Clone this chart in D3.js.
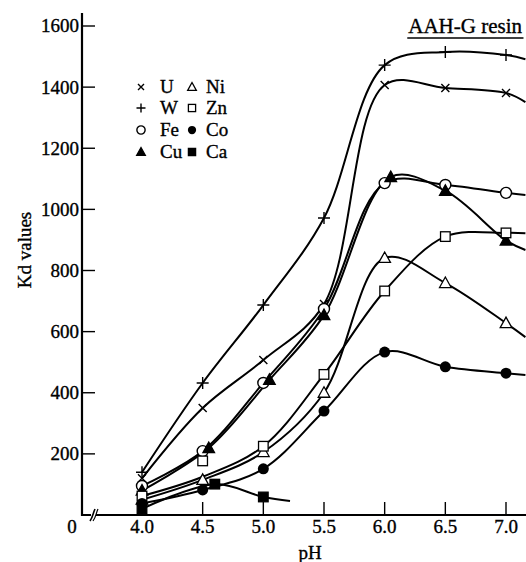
<!DOCTYPE html>
<html>
<head>
<meta charset="utf-8">
<script src="https://cdn.jsdelivr.net/npm/d3@7"></script>
<style>
  html, body { margin: 0; padding: 0; background: #fff; }
  svg { display: block; }
  svg text { font-family: "Liberation Serif", "DejaVu Serif", serif; fill: #000; stroke: #000; stroke-width: 0.35px; }
</style>
</head>
<body>
<svg id="chart" width="526" height="562"></svg>
<script>
// Distribution coefficients (Kd) of metal ions on AAH-G resin versus pH
const pH = [4.0, 4.5, 5.0, 5.5, 6.0, 6.5, 7.0];
const kdU  = [120, 350, 507, 690, 1407, 1397, 1381];
const kdW  = [140, 432, 687, 972, 1472, 1515, 1505];
const kdFe = [95, 209, 432, 674, 1086, 1080, 1054];
const pHCu = [4.0, 4.55, 5.05, 5.5, 6.05, 6.5, 7.0];
const kdCu = [80, 219, 442, 654, 1106, 1061, 898];
const kdNi = [50, 115, 206, 400, 841, 759, 628];
const kdZn = [62, 177, 225, 460, 733, 911, 923];
const kdCo = [38, 82, 151, 340, 533, 485, 464];
const pHCa = [4.0, 4.6, 5.0];
const kdCa = [20, 101, 59];

// Where each fitted curve runs out of the frame
const pHEdge = 7.16;
const pHEdgeCa = 5.22;
const kdEdgeU = 1351, kdEdgeW = 1491, kdEdgeFe = 1047, kdEdgeCu = 867;
const kdEdgeNi = 582, kdEdgeZn = 922, kdEdgeCo = 458, kdEdgeCa = 46;
// The Zn curve passes below its pH 4.5 point
const kdZnCurveAt45 = 125;

const xTicks = [4.0, 4.5, 5.0, 5.5, 6.0, 6.5, 7.0];
const yTicks = [200, 400, 600, 800, 1000, 1200, 1400, 1600];
const legendLeft  = ["U", "W", "Fe", "Cu"];
const legendRight = ["Ni", "Zn", "Co", "Ca"];

const svg = d3.select("#chart");
const x = d3.scaleLinear().domain([4.0, 7.0]).range([142, 506]);
const y = d3.scaleLinear().domain([0, 1600]).range([515, 26]);
const axisX0 = 82, axisY0 = y(0);

// ---- axes ----
const ax = svg.append("g").attr("stroke", "#000").attr("fill", "none");
ax.append("line").attr("x1", axisX0).attr("x2", axisX0)
  .attr("y1", axisY0 + 1).attr("y2", 13).attr("stroke-width", 2.2);
ax.append("line").attr("x1", axisX0).attr("x2", 526)
  .attr("y1", axisY0).attr("y2", axisY0).attr("stroke-width", 2.2);
// axis break on the pH axis
ax.append("rect").attr("x", 91).attr("y", axisY0 - 4).attr("width", 5).attr("height", 8)
  .attr("fill", "#fff").attr("stroke", "none");
ax.append("path").attr("d", `M90,${axisY0 + 6} C93,${axisY0 + 2} 93,${axisY0 - 2} 95,${axisY0 - 6}`)
  .attr("stroke-width", 1.6);
ax.append("path").attr("d", `M93,${axisY0 + 6} C96,${axisY0 + 2} 96,${axisY0 - 2} 98,${axisY0 - 6}`)
  .attr("stroke-width", 1.2);

// ticks point inward
ax.selectAll(".yt").data(yTicks).join("line")
  .attr("x1", axisX0).attr("x2", axisX0 + 13)
  .attr("y1", d => y(d)).attr("y2", d => y(d)).attr("stroke-width", 1.4);
ax.selectAll(".xt").data(xTicks).join("line")
  .attr("x1", d => x(d)).attr("x2", d => x(d))
  .attr("y1", axisY0).attr("y2", axisY0 - 13).attr("stroke-width", 1.4);

svg.append("g").selectAll("text").data(yTicks).join("text")
  .attr("x", 79).attr("y", d => y(d)).attr("dy", "0.34em")
  .attr("text-anchor", "end").attr("font-size", 19).text(d => d);
svg.append("g").selectAll("text").data(xTicks).join("text")
  .attr("x", d => x(d)).attr("y", 533)
  .attr("text-anchor", "middle").attr("font-size", 19).text(d => d.toFixed(1));
svg.append("text").attr("x", 72).attr("y", 533).attr("text-anchor", "middle")
  .attr("font-size", 19).text("0");

svg.append("text").attr("transform", "translate(31,250) rotate(-90)")
  .attr("text-anchor", "middle").attr("font-size", 19).text("Kd values");
svg.append("text").attr("x", 310).attr("y", 559).attr("text-anchor", "middle")
  .attr("font-size", 19).text("pH");

// title with underline
const title = svg.append("text").attr("x", 522).attr("y", 33).attr("text-anchor", "end")
  .attr("font-size", 21).text("AAH-G resin");
const tb = title.node().getBBox();
svg.append("line").attr("x1", tb.x - 1).attr("x2", tb.x + tb.width + 1)
  .attr("y1", 38).attr("y2", 38).attr("stroke", "#000").attr("stroke-width", 1.6);

// ---- series ----
const zip = (xs, ys) => xs.map((v, i) => [v, ys[i]]);
const series = [
  { name: "U",  pts: zip(pH, kdU),   curve: zip(pH.concat(pHEdge), kdU.concat(kdEdgeU)) },
  { name: "W",  pts: zip(pH, kdW),   curve: zip(pH.concat(pHEdge), kdW.concat(kdEdgeW)) },
  { name: "Fe", pts: zip(pH, kdFe),  curve: zip(pH.concat(pHEdge), kdFe.concat(kdEdgeFe)) },
  { name: "Cu", pts: zip(pHCu, kdCu), curve: zip(pHCu.concat(pHEdge), kdCu.concat(kdEdgeCu)) },
  { name: "Ni", pts: zip(pH, kdNi),  curve: zip(pH.concat(pHEdge), kdNi.concat(kdEdgeNi)) },
  { name: "Zn", pts: zip(pH, kdZn),
    curve: zip(pH.concat(pHEdge), kdZn.map((v, i) => pH[i] === 4.5 ? kdZnCurveAt45 : v).concat(kdEdgeZn)) },
  { name: "Co", pts: zip(pH, kdCo),  curve: zip(pH.concat(pHEdge), kdCo.concat(kdEdgeCo)) },
  { name: "Ca", pts: zip(pHCa, kdCa), curve: zip(pHCa.concat(pHEdgeCa), kdCa.concat(kdEdgeCa)) }
];

const line = d3.line().x(d => x(d[0])).y(d => y(d[1])).curve(d3.curveCatmullRom.alpha(0.5));
svg.append("defs").append("clipPath").attr("id", "plot")
  .append("rect").attr("x", axisX0).attr("y", 0).attr("width", 526 - axisX0).attr("height", axisY0);
svg.append("g").attr("clip-path", "url(#plot)")
  .selectAll("path").data(series).join("path")
  .attr("d", d => line(d.curve))
  .attr("fill", "none").attr("stroke", "#000").attr("stroke-width", 2);

// marker glyphs drawn at (cx, cy) with scale s
function marker(g, name, cx, cy, s) {
  const t = g.append("g").attr("transform", `translate(${cx},${cy})`);
  switch (name) {
    case "U":
      t.append("path").attr("d", `M${-4*s},${-4*s}L${4*s},${4*s}M${-4*s},${4*s}L${4*s},${-4*s}`)
        .attr("stroke", "#000").attr("stroke-width", 1.4);
      break;
    case "W":
      t.append("path").attr("d", `M${-6*s},0L${6*s},0M0,${-6*s}L0,${6*s}`)
        .attr("stroke", "#000").attr("stroke-width", 1.4);
      break;
    case "Fe":
      t.append("circle").attr("r", 5.5*s).attr("fill", "#fff").attr("stroke", "#000").attr("stroke-width", 1.4);
      break;
    case "Co":
      t.append("circle").attr("r", 5.5*s).attr("fill", "#000");
      break;
    case "Cu":
    case "Ni":
      t.append("path").attr("d", `M0,${-6*s}L${5.8*s},${4.5*s}L${-5.8*s},${4.5*s}Z`)
        .attr("fill", name === "Cu" ? "#000" : "#fff").attr("stroke", "#000").attr("stroke-width", 1.3);
      break;
    case "Zn":
    case "Ca":
      t.append("rect").attr("x", -4.8*s).attr("y", -4.8*s).attr("width", 9.6*s).attr("height", 9.6*s)
        .attr("fill", name === "Ca" ? "#000" : "#fff").attr("stroke", "#000").attr("stroke-width", 1.3);
      break;
  }
}

const mk = svg.append("g");
series.forEach(s => s.pts.forEach(p => marker(mk, s.name, x(p[0]), y(p[1]), 1)));

// ---- legend ----
const rowY = [87, 108, 130, 152];
const lg = svg.append("g");
legendLeft.forEach((n, i) => {
  marker(lg, n, 141, rowY[i], 0.75);
  lg.append("text").attr("x", 160).attr("y", rowY[i]).attr("dy", "0.34em")
    .attr("font-size", 19).text(n);
});
legendRight.forEach((n, i) => {
  marker(lg, n, 192, rowY[i], 0.75);
  lg.append("text").attr("x", 206).attr("y", rowY[i]).attr("dy", "0.34em")
    .attr("font-size", 19).text(n);
});
</script>
</body>
</html>
